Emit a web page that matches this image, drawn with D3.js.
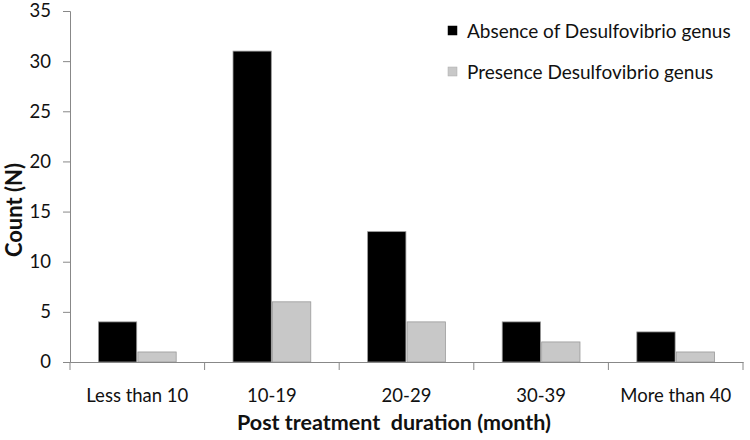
<!DOCTYPE html>
<html><head><meta charset="utf-8">
<script src="https://cdn.jsdelivr.net/npm/d3@7"></script>
<style>body{margin:0;background:#fff}svg{display:block}</style>
</head><body><svg id="c" width="750" height="440"></svg>
<script>
const categories = ["Less than 10","10-19","20-29","30-39","More than 40"];
const absence = [4,31,13,4,3];
const presence = [1,6,4,2,1];
const seriesNames = ["Absence of Desulfovibrio genus","Presence Desulfovibrio genus"];
const yTicks = [0,5,10,15,20,25,30,35];

const svg = d3.select("#c");
const font = "Lato, 'Open Sans', sans-serif";
const m = {l:70, r:7, t:11, b:78};
const W = 750, H = 440;
const x = d3.scaleBand().domain(categories).range([m.l, W-m.r]).paddingInner(0).paddingOuter(0);
const y = d3.scaleLinear().domain([0,35]).range([H-m.b, m.t]);
const sub = d3.scaleBand().domain([0,1]).range([0, x.bandwidth()]).paddingInner(0.03).paddingOuter(0.72);
const colors = ["#000000","#c8c8c8"];
const data = [absence, presence];

// y axis
const ya = svg.append("g").attr("transform",`translate(${m.l},0)`)
  .call(d3.axisLeft(y).tickValues(yTicks).tickSize(7).tickPadding(12));
ya.select(".domain").attr("stroke","#888");
ya.selectAll(".tick line").attr("stroke","#888");
ya.selectAll("text").attr("font-family",font).attr("font-size",18.5).attr("fill","#111");

// bars
categories.forEach((c,i)=>{
  data.forEach((s,j)=>{
    svg.append("rect")
      .attr("x", x(c)+sub(j)).attr("width", sub.bandwidth())
      .attr("y", y(s[i])).attr("height", y(0)-y(s[i]))
      .attr("fill", colors[j]).attr("stroke","#999").attr("stroke-width",0.8);
  });
});

// x axis
const xa = svg.append("g").attr("transform",`translate(0,${y(0)})`)
  .call(d3.axisBottom(x).tickSize(0).tickPadding(27));
xa.select(".domain").attr("stroke","#888");
xa.selectAll("text").attr("font-family",font).attr("font-size",18.5).attr("fill","#111");
svg.append("g").selectAll("line").data(d3.range(categories.length+1)).join("line")
  .attr("x1", i => i<categories.length ? x(categories[i]) : x(categories[categories.length-1])+x.bandwidth())
  .attr("x2", i => i<categories.length ? x(categories[i]) : x(categories[categories.length-1])+x.bandwidth())
  .attr("y1", y(0)).attr("y2", y(0)+8).attr("stroke","#888");

// axis titles
svg.append("text").attr("x", 394).attr("y", 430).attr("text-anchor","middle")
  .style("white-space","pre")
  .attr("font-family",font).attr("font-weight","bold").attr("font-size",21.5).attr("fill","#111")
  .text("Post treatment  duration (month)");
svg.append("text").attr("transform",`translate(22,210) rotate(-90)`).attr("text-anchor","middle")
  .attr("font-family",font).attr("font-weight","bold").attr("font-size",22).attr("fill","#111")
  .text("Count (N)");

// legend
const lg = svg.append("g");
seriesNames.forEach((n,j)=>{
  const ly = 31 + j*41;
  lg.append("rect").attr("x",448).attr("y",ly-5).attr("width",9).attr("height",9).attr("fill",colors[j]).attr("stroke", j? "#aaa":"#000").attr("stroke-width",0.5);
  lg.append("text").attr("x",467).attr("y",ly).attr("dy","0.35em")
    .attr("font-family",font).attr("font-size",19).attr("fill","#111").text(n);
});
</script></body></html>
